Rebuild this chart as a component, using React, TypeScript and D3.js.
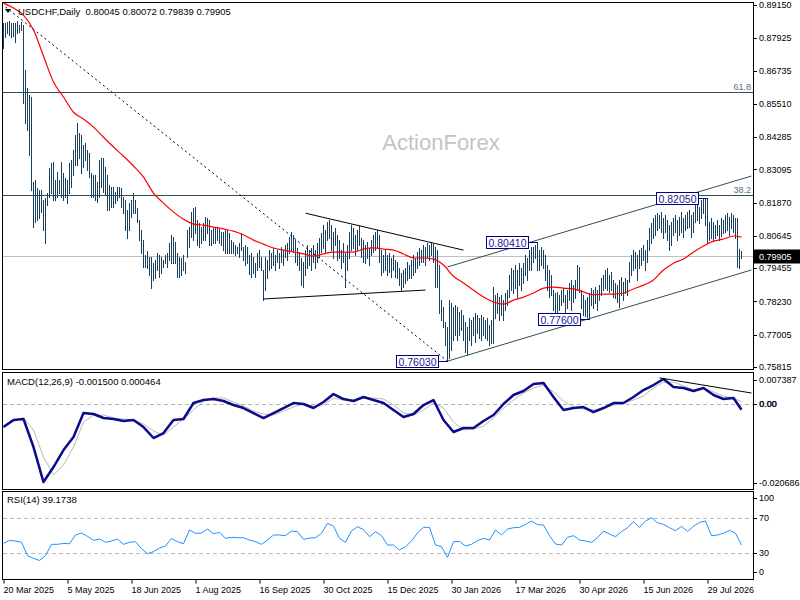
import React, { useRef, useEffect } from 'react';
import * as d3 from 'd3';

// daily bars, prices in 1/10000
const highs = [
  8848, 8848, 8852, 8856, 8848, 8848, 8848, 8856, 8841, 8852,
  8841, 8675, 8609, 8583, 8576, 8263, 8270, 8241, 8233, 8233,
  8197, 8204, 8222, 8314, 8333, 8336, 8270, 8300, 8270, 8336,
  8296, 8278, 8270, 8333, 8344, 8381, 8436, 8480, 8443, 8436,
  8399, 8406, 8381, 8370, 8296, 8289, 8289, 8263, 8344, 8351,
  8351, 8320, 8289, 8252, 8244, 8244, 8226, 8244, 8244, 8241,
  8208, 8197, 8160, 8185, 8197, 8222, 8197, 8167, 8123, 8086,
  8049, 7994, 8010, 7986, 7986, 7964, 7975, 8001, 7994, 7986,
  7975, 7994, 8001, 8038, 8068, 8060, 8042, 8001, 7986, 7983,
  7994, 7968, 8086, 8097, 8152, 8167, 8171, 8123, 8112, 8097,
  8112, 8134, 8130, 8123, 8086, 8093, 8097, 8097, 8090, 8078,
  8078, 8086, 8086, 8075, 8049, 8042, 8030, 8023, 8038, 8075,
  8023, 8031, 8023, 7995, 8001, 7986, 7964, 8001, 8012, 7986,
  7939, 7986, 7975, 8012, 8001, 8020, 7994, 8012, 8001, 8023,
  8012, 8031, 8038, 8060, 8078, 8068, 8049, 8020, 8005, 7983,
  7968, 8012, 8031, 8012, 8020, 8031, 8012, 8038, 8056, 8075,
  8104, 8086, 8115, 8123, 8104, 8078, 8093, 8068, 8049, 8012,
  8038, 8001, 8031, 8078, 8104, 8093, 8068, 8086, 8101, 8056,
  8049, 8031, 8042, 8020, 8049, 8068, 8078, 8086, 8068, 8012,
  7994, 8012, 7994, 8001, 7983, 7994, 7975, 7968, 7946, 7928,
  7939, 7946, 7968, 7957, 7975, 7994, 7983, 8005, 8020, 8012,
  8031, 8023, 8038, 8031, 8042, 8035, 8023, 8012, 7957, 7828,
  7802, 7747, 7729, 7828, 7817, 7802, 7810, 7802, 7784, 7791,
  7773, 7747, 7729, 7762, 7754, 7765, 7780, 7773, 7762, 7773,
  7765, 7754, 7762, 7736, 7754, 7876, 7847, 7854, 7839, 7847,
  7828, 7854, 7865, 7920, 7946, 7939, 7957, 7939, 7964, 7946,
  7964, 7994, 7983, 8012, 8023, 8025, 8030, 8041, 8012, 8023,
  8012, 7994, 7957, 7939, 7920, 7865, 7854, 7858, 7847, 7865,
  7872, 7847, 7865, 7891, 7902, 7883, 7902, 7957, 7950, 7865,
  7847, 7828, 7839, 7854, 7872, 7865, 7876, 7865, 7883, 7909,
  7920, 7939, 7946, 7920, 7931, 7902, 7891, 7883, 7902, 7913,
  7894, 7909, 7902, 7968, 7994, 8012, 8005, 7994, 8012, 8020,
  8031, 8012, 8049, 8093, 8112, 8130, 8141, 8149, 8141, 8152,
  8130, 8141, 8123, 8104, 8115, 8130, 8141, 8123, 8134, 8152,
  8130, 8141, 8152, 8160, 8141, 8152, 8178, 8185, 8171, 8197,
  8204, 8204, 8205, 8115, 8130, 8115, 8104, 8123, 8104, 8130,
  8123, 8141, 8149, 8134, 8149, 8141, 8130, 8130, 8016, 8007,
];

const lows = [
  8756, 8797, 8811, 8804, 8797, 8800, 8778, 8811, 8815, 8823,
  8554, 8480, 8454, 8362, 8233, 8097, 8115, 8123, 8130, 8152,
  8086, 8038, 8178, 8208, 8222, 8197, 8197, 8208, 8222, 8208,
  8197, 8208, 8185, 8222, 8244, 8289, 8325, 8325, 8351, 8296,
  8318, 8344, 8307, 8281, 8208, 8208, 8197, 8189, 8208, 8244,
  8226, 8215, 8160, 8160, 8171, 8171, 8185, 8197, 8208, 8171,
  8149, 8086, 8056, 8086, 8134, 8149, 8149, 8115, 8049, 8001,
  7950, 7950, 7945, 7920, 7872, 7902, 7909, 7939, 7913, 7928,
  7950, 7964, 7950, 7975, 7964, 7964, 7964, 7913, 7913, 7920,
  7939, 7928, 7986, 8023, 8060, 8049, 8075, 8031, 8023, 8038,
  8049, 8049, 8075, 8031, 8031, 8038, 8038, 8049, 8040, 8031,
  8012, 8001, 8001, 8001, 8001, 8001, 7995, 8001, 7986, 8012,
  7975, 7957, 7964, 7925, 7913, 7928, 7913, 7939, 7950, 7939,
  7828, 7865, 7909, 7939, 7946, 7957, 7939, 7968, 7946, 7968,
  7957, 7986, 7975, 8001, 8012, 8005, 7968, 7957, 7939, 7883,
  7876, 7920, 7946, 7957, 7939, 7968, 7946, 7968, 7986, 8005,
  8020, 8005, 8049, 8056, 8012, 7983, 8031, 7975, 7983, 7946,
  7968, 7876, 7939, 7983, 8012, 8020, 7994, 8012, 8031, 7986,
  7968, 7964, 7983, 7957, 7994, 8005, 8012, 8023, 7968, 7920,
  7931, 7939, 7920, 7931, 7913, 7939, 7913, 7909, 7883, 7865,
  7876, 7891, 7902, 7909, 7909, 7920, 7931, 7946, 7957, 7968,
  7968, 7957, 7983, 7975, 7994, 7968, 7876, 7876, 7780, 7754,
  7729, 7662, 7603, 7614, 7644, 7681, 7699, 7681, 7699, 7718,
  7681, 7637, 7626, 7681, 7662, 7699, 7673, 7707, 7688, 7681,
  7699, 7688, 7681, 7662, 7670, 7670, 7762, 7780, 7754, 7773,
  7754, 7791, 7810, 7839, 7865, 7854, 7872, 7839, 7883, 7865,
  7891, 7920, 7902, 7939, 7939, 7968, 7983, 7939, 7939, 7957,
  7946, 7902, 7865, 7839, 7847, 7791, 7780, 7784, 7791, 7810,
  7821, 7780, 7799, 7828, 7791, 7821, 7836, 7865, 7858, 7799,
  7773, 7768, 7765, 7760, 7810, 7799, 7817, 7791, 7828, 7847,
  7865, 7872, 7865, 7858, 7865, 7839, 7836, 7821, 7802, 7847,
  7828, 7854, 7847, 7894, 7920, 7939, 7946, 7902, 7946, 7957,
  7975, 7939, 7968, 8012, 8038, 8056, 8068, 8086, 8093, 8078,
  8056, 8078, 8049, 8012, 8031, 8068, 8078, 8049, 8068, 8078,
  8060, 8086, 8093, 8097, 8060, 8078, 8115, 8123, 8112, 8130,
  8149, 8104, 8042, 8049, 8056, 8049, 8056, 8068, 8049, 8064,
  8075, 8078, 8086, 8068, 8093, 8078, 8056, 7950, 7946, 7984,
];

const lastBar = { open: 0.80045, high: 0.80072, low: 0.79839, close: 0.79905 };

// red moving average, one value every 5 bars (last one on the last bar), 1/10000
const maValues = [
  8922, 8904, 8878, 8823, 8727, 8631, 8576, 8520, 8495, 8465,
  8428, 8392, 8358, 8322, 8281, 8222, 8185, 8152, 8126, 8108,
  8104, 8097, 8090, 8082, 8068, 8049, 8034, 8020, 8012, 8005,
  7998, 7990, 7998, 8005, 8005, 8005, 8016, 8020, 8016, 8012,
  7998, 7983, 7983, 7979, 7957, 7916, 7891, 7865, 7839, 7821,
  7813, 7828, 7839, 7854, 7872, 7876, 7872, 7869, 7858, 7847,
  7850, 7850, 7854, 7869, 7883, 7902, 7939, 7964, 7979, 8005,
  8027, 8045, 8053, 8064, 8060,
];

// MACD(12,26,9), every 5 bars
const macdValues = [
  -0.00569, -0.00399, -0.00375, -0.01053, -0.0190, -0.01537, -0.01125, -0.00811, -0.0023, -0.00254,
  -0.00351, -0.00375, -0.00424, -0.00399, -0.00569, -0.00835, -0.00714, -0.00399, -0.00375, 0.00012,
  0.00085, 0.00109, 0.00061, -0.00036, -0.00109, -0.0023, -0.00351, -0.0023, -0.00109, 0.00012,
  -0.00012, -0.00109, 0.00036, 0.0023, 0.00109, 0.00061, 0.00157, 0.00085, 0.00012, -0.00157,
  -0.00327, -0.00254, -0.00036, 0.00085, -0.00399, -0.0069, -0.00593, -0.00593, -0.00424, -0.00278,
  -0.00012, 0.00206, 0.00303, 0.00472, 0.00496, 0.00157, -0.00157, -0.00109, -0.00085, -0.00206,
  -0.00109, 0.00012, 0.00012, 0.00157, 0.00327, 0.00448, 0.00593, 0.00399, 0.00375, 0.00303,
  0.00375, 0.00206, 0.00109, 0.00133, -0.0015,
];

const signalValues = [
  -0.00569, -0.00424, -0.00351, -0.00641, -0.01295, -0.0173, -0.01488, -0.01053, -0.00448, -0.00278,
  -0.00278, -0.00351, -0.00375, -0.00399, -0.00496, -0.00666, -0.00762, -0.00569, -0.00375, -0.00157,
  0.00061, 0.00133, 0.00133, 0.00036, -0.00061, -0.00182, -0.00254, -0.00278, -0.00182, -0.00085,
  -0.00012, -0.00061, -0.00036, 0.00133, 0.00085, 0.00085, 0.00133, 0.00133, 0.00109, -0.00036,
  -0.0023, -0.00278, -0.00157, 0.00012, -0.00109, -0.00448, -0.00641, -0.00617, -0.00545, -0.00351,
  -0.00109, 0.00085, 0.00254, 0.00375, 0.00448, 0.00278, 0.00061, -0.00085, -0.00133, -0.00157,
  -0.00109, -0.00036, 0.00012, 0.00085, 0.00182, 0.00375, 0.0052, 0.0052, 0.00424, 0.00327,
  0.00375, 0.00278, 0.00182, 0.00133, 0.000464,
];

// RSI(14), every 3 bars
const rsiValues = [
  41.0, 44.4, 43.7, 42.2, 26.9, 23.9, 21.5, 26.9, 39.9, 39.9,
  41.0, 40.6, 50.6, 52.8, 49.0, 44.4, 46.0, 42.2, 43.7, 46.0,
  39.9, 42.2, 42.9, 34.9, 29.2, 31.5, 35.7, 38.0, 46.7, 42.9,
  40.6, 56.3, 52.5, 52.8, 57.4, 52.1, 53.6, 46.7, 47.9, 47.5,
  47.5, 44.8, 42.9, 39.9, 44.8, 50.6, 50.6, 49.8, 55.1, 54.4,
  45.6, 47.1, 47.5, 52.5, 63.9, 60.8, 46.7, 42.2, 55.1, 60.1,
  56.7, 48.6, 54.4, 49.8, 39.1, 39.1, 33.4, 37.2, 43.7, 52.8,
  59.3, 59.3, 39.1, 37.2, 25.0, 42.9, 43.3, 38.0, 39.9, 44.1,
  46.7, 44.8, 56.3, 50.6, 57.4, 58.9, 59.3, 62.7, 66.5, 62.4,
  62.0, 49.8, 40.3, 39.1, 47.9, 49.8, 44.8, 43.7, 42.2, 47.5,
  55.1, 51.7, 48.6, 54.4, 58.9, 65.8, 59.3, 66.5, 70.4, 64.6,
  62.7, 58.9, 55.5, 60.5, 54.7, 60.5, 65.0, 66.5, 49.8, 50.6,
  52.5, 55.9, 52.5, 39.1738,
];

const dateLabels = [
  '20 Mar 2025', '5 May 2025', '18 Jun 2025', '1 Aug 2025', '16 Sep 2025', '30 Oct 2025',
  '15 Dec 2025', '30 Jan 2026', '17 Mar 2026', '30 Apr 2026', '15 Jun 2026', '29 Jul 2026',
];
const priceTicks = [0.8915, 0.87925, 0.86735, 0.8551, 0.84285, 0.83095, 0.8187, 0.80645, 0.79455, 0.7823, 0.77005, 0.75815];
const priceRange = [0.75815, 0.8915];
const macdRange = [-0.020686, 0.007387];
const rsiLevels = [70, 30];

const fibLevels = [
  { name: '61.8', price: 0.8593 },
  { name: '38.2', price: 0.8215 },
];
// [bar, price] anchors
const dashedTrend = [[1, 0.8908], [222, 0.7603]];
const triangle = [
  [[151, 0.8148], [230, 0.8012]],
  [[130, 0.7832], [211, 0.7865]],
];
const channel = [
  [[222, 0.795], [374, 0.8285]],
  [[222, 0.7603], [374, 0.7939]],
];
const macdTrend = [[328, 0.0062], [374, 0.00254]];
const swingLabels = [
  { bar: 352, price: 0.8205 },
  { bar: 267, price: 0.8041 },
  { bar: 293, price: 0.776 },
  { bar: 222, price: 0.7603 },
];

const FONT = "'Liberation Sans', Arial, sans-serif";

const App = () => {
  const svgRef = useRef(null);

  useEffect(() => {
    const svg = d3.select(svgRef.current);
    svg.selectAll('*').remove();
    const n = highs.length;
    const x = d3.scaleLinear().domain([0, n - 1]).range([3.5, 3.5 + 2 * (n - 1)]);
    const yP = d3.scaleLinear().domain(priceRange).range([367, 5]);
    const yM = d3.scaleLinear().domain(macdRange).range([489, 373]);
    const yR = d3.scaleLinear().domain([0, 100]).range([579.25, 491.75]);
    const px = v => v / 10000;
    const crisp = v => Math.round(v) + 0.5;

    svg.attr('width', 800).attr('height', 600).style('font-family', FONT);
    svg.append('rect').attr('width', 800).attr('height', 600).attr('fill', '#fff');

    const defs = svg.append('defs');
    [['cp-price', 3, 369], ['cp-macd', 373, 489], ['cp-rsi', 492, 579]].forEach(([id, a, b]) => {
      defs.append('clipPath').attr('id', id)
        .append('rect').attr('x', 3).attr('y', a).attr('width', 750).attr('height', b - a);
    });

    // ---------- price panel ----------
    const price = svg.append('g').attr('clip-path', 'url(#cp-price)');

    price.append('text')
      .attr('x', 441).attr('y', 150).attr('text-anchor', 'middle')
      .attr('font-size', 22).attr('fill', '#c4c4c4')
      .text('ActionForex');

    fibLevels.forEach(f => {
      const yy = crisp(yP(f.price));
      price.append('line').attr('x1', 2).attr('x2', 754).attr('y1', yy).attr('y2', yy)
        .attr('stroke', '#2f4f4f');
      price.append('text').attr('x', 751).attr('y', yy - 3).attr('text-anchor', 'end')
        .attr('font-size', 9).attr('fill', '#5a6f7a').text(f.name);
    });

    const yLast = crisp(yP(lastBar.close));
    price.append('line').attr('x1', 2).attr('x2', 754).attr('y1', yLast).attr('y2', yLast)
      .attr('stroke', '#c0c0c0');

    price.append('g')
      .attr('stroke', '#1a4060')
      .attr('shape-rendering', 'crispEdges')
      .selectAll('line')
      .data(d3.range(n))
      .join('line')
      .attr('x1', i => x(i)).attr('x2', i => x(i))
      .attr('y1', i => Math.round(yP(px(highs[i]))))
      .attr('y2', i => Math.round(yP(px(lows[i]))) + 1);

    const maLine = d3.line()
      .x((d, k) => x(Math.min(k * 5, n - 1)))
      .y(d => yP(px(d)))
      .curve(d3.curveMonotoneX);
    price.append('path').attr('d', maLine(maValues))
      .attr('fill', 'none').attr('stroke', '#ff0000').attr('stroke-width', 1.2);

    const seg = (g, pts, yS, stroke, dash) => {
      g.append('line')
        .attr('x1', x(pts[0][0])).attr('y1', yS(pts[0][1]))
        .attr('x2', x(pts[1][0])).attr('y2', yS(pts[1][1]))
        .attr('stroke', stroke).attr('stroke-width', 1)
        .attr('stroke-dasharray', dash || null);
    };
    seg(price, dashedTrend, yP, '#000', '2,3');
    triangle.forEach(t => seg(price, t, yP, '#000'));
    channel.forEach(c => seg(price, c, yP, '#2f4f4f'));

    swingLabels.forEach(s => {
      const bx = x(s.bar);
      const by = crisp(yP(s.price));
      const right = Math.round(bx - 10) + 0.5;
      price.append('line').attr('x1', right).attr('x2', bx + 0.5).attr('y1', by).attr('y2', by)
        .attr('stroke', '#000080');
      price.append('rect').attr('x', right - 42).attr('y', by - 6).attr('width', 42).attr('height', 12)
        .attr('fill', '#fff').attr('stroke', '#000080');
      price.append('text').attr('x', right - 21).attr('y', by + 4).attr('text-anchor', 'middle')
        .attr('font-size', 10.5).attr('fill', '#1a1a9a').text(s.price.toFixed(5));
    });

    // header
    svg.append('path').attr('d', 'M5,9 L11,9 L8,13 Z').attr('fill', '#000');
    svg.append('text').attr('x', 18).attr('y', 14.5).attr('font-size', 9.5).attr('fill', '#000')
      .attr('xml:space', 'preserve')
      .text(`USDCHF,Daily  ${[lastBar.open, lastBar.high, lastBar.low, lastBar.close].map(v => v.toFixed(5)).join(' ')}`);

    // ---------- MACD panel ----------
    const macd = svg.append('g').attr('clip-path', 'url(#cp-macd)');
    const y0 = crisp(yM(0));
    macd.append('line').attr('x1', 3).attr('x2', 753).attr('y1', y0).attr('y2', y0)
      .attr('stroke', '#b4b4b4').attr('stroke-dasharray', '4,3');
    const mLine = d3.line()
      .x((d, k) => x(Math.min(k * 5, n - 1)))
      .y(d => yM(d));
    macd.append('path').attr('d', mLine(signalValues))
      .attr('fill', 'none').attr('stroke', '#b8b8b8').attr('stroke-width', 1);
    macd.append('path').attr('d', mLine(macdValues))
      .attr('fill', 'none').attr('stroke', '#0b0b8c').attr('stroke-width', 2.5)
      .attr('stroke-linejoin', 'round');
    seg(macd, macdTrend, yM, '#000');
    svg.append('text').attr('x', 7).attr('y', 385).attr('font-size', 9.5).attr('fill', '#000')
      .text(`MACD(12,26,9) ${macdValues[macdValues.length - 1].toFixed(6)} ${signalValues[signalValues.length - 1].toFixed(6)}`);

    // ---------- RSI panel ----------
    const rsi = svg.append('g').attr('clip-path', 'url(#cp-rsi)');
    rsiLevels.forEach(l => {
      const yy = crisp(yR(l));
      rsi.append('line').attr('x1', 3).attr('x2', 753).attr('y1', yy).attr('y2', yy)
        .attr('stroke', '#bdbdbd').attr('stroke-dasharray', '4,3');
    });
    const rLine = d3.line()
      .x((d, k) => x(Math.min(k * 3, n - 1)))
      .y(d => yR(d));
    rsi.append('path').attr('d', rLine(rsiValues))
      .attr('fill', 'none').attr('stroke', '#1e90ff').attr('stroke-width', 1);
    svg.append('text').attr('x', 7).attr('y', 503).attr('font-size', 9.5).attr('fill', '#000')
      .text(`RSI(14) ${rsiValues[rsiValues.length - 1].toFixed(4)}`);

    // ---------- frames ----------
    [[2.5, 369.5], [372.5, 489.5], [491.5, 579.5]].forEach(([a, b]) => {
      svg.append('rect').attr('x', 2.5).attr('y', a).attr('width', 751).attr('height', b - a)
        .attr('fill', 'none').attr('stroke', '#000');
    });

    // ---------- right axes ----------
    const axis = svg.append('g').attr('font-size', 9).attr('fill', '#000');
    const rightLabel = (yy, label) => {
      axis.append('line').attr('x1', 754).attr('x2', 757).attr('y1', crisp(yy)).attr('y2', crisp(yy))
        .attr('stroke', '#000');
      axis.append('text').attr('x', 759).attr('y', yy + 3.2).text(label);
    };
    priceTicks.forEach(p => rightLabel(yP(p), p.toFixed(5)));

    axis.append('rect').attr('x', 754).attr('y', yLast - 7).attr('width', 46).attr('height', 14)
      .attr('fill', '#000');
    axis.append('text').attr('x', 759).attr('y', yLast + 3.5).attr('fill', '#fff').text(lastBar.close.toFixed(5));

    rightLabel(yM(macdRange[1]) + 7, macdRange[1].toFixed(6));
    rightLabel(yM(0), '0.00');
    axis.append('text').attr('x', 759.6).attr('y', yM(0) + 3.2).text('0.00');
    rightLabel(yM(macdRange[0]) - 6, macdRange[0].toFixed(6));

    rightLabel(yR(100) + 6.5, '100');
    rsiLevels.forEach(l => rightLabel(yR(l), String(l)));
    rightLabel(yR(0) - 7, '0');

    // ---------- time axis ----------
    const tg = svg.append('g')
      .attr('transform', 'translate(0,579.5)')
      .call(d3.axisBottom(x)
        .tickValues(dateLabels.map((d, k) => k * 32))
        .tickFormat((d, k) => dateLabels[k])
        .tickSize(4)
        .tickPadding(3));
    tg.select('.domain').remove();
    tg.selectAll('line').attr('stroke', '#000');
    tg.selectAll('text')
      .attr('text-anchor', 'start')
      .attr('dx', '-0.5')
      .attr('font-family', FONT)
      .attr('font-size', 9)
      .attr('fill', '#000');
  }, []);

  return (
    <svg
      ref={svgRef}
      width={800}
      height={600}
      style={{ position: 'absolute', left: 0, top: 0, display: 'block' }}
    />
  );
};

export default App;
